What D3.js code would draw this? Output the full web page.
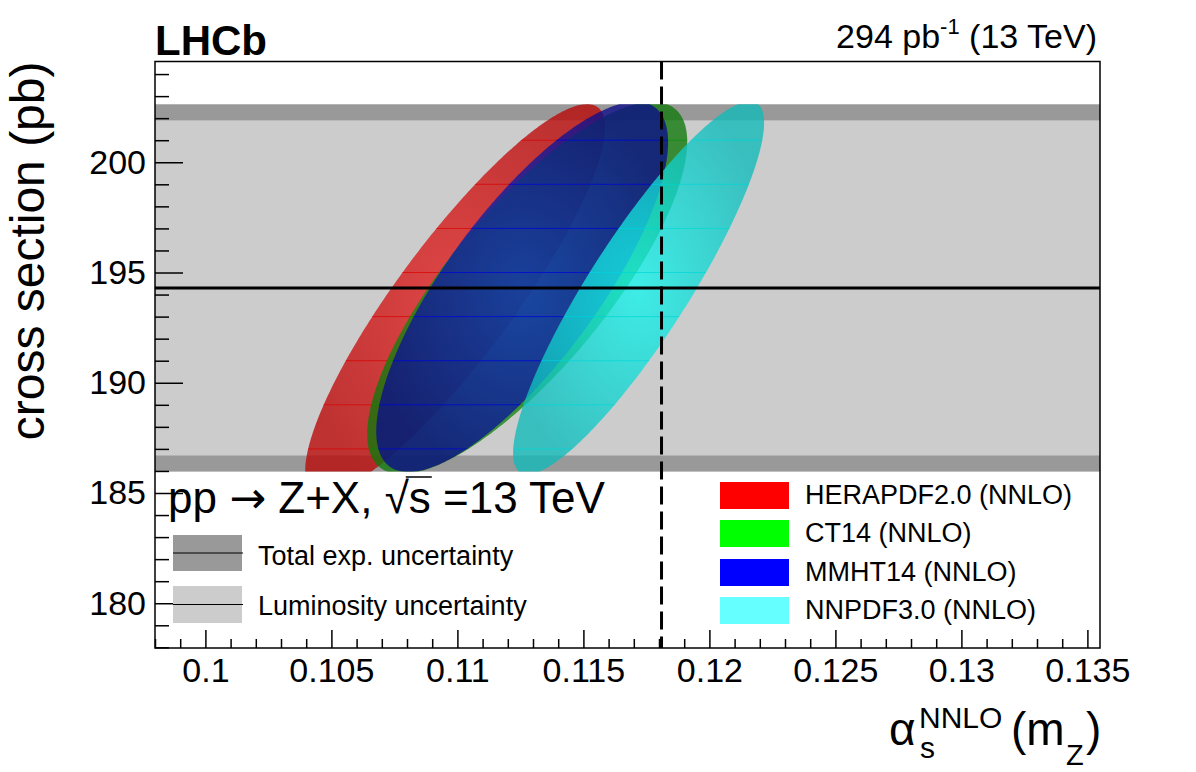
<!DOCTYPE html>
<html>
<head>
<meta charset="utf-8">
<script src="https://cdn.jsdelivr.net/npm/d3@7"></script>
<style>
  body { margin: 0; background: #fff; }
  text { font-family: "Liberation Sans", Arial, Helvetica, sans-serif; fill: #000; }
</style>
</head>
<body>
<svg id="chart" width="1196" height="772"></svg>
<script>
// measured cross section and its bands
var sigmaMeas = 194.3, totErr = 8.33, lumiErr = 7.6;
var alphaRef = 0.1181;

// tick labels
var xTicks = [0.1, 0.105, 0.11, 0.115, 0.12, 0.125, 0.13, 0.135];
var yTicks = [180, 185, 190, 195, 200];

// PDF ellipses (centre, half widths, correlation)
var pdfNames = ["HERAPDF2.0 (NNLO)", "CT14 (NNLO)", "MMHT14 (NNLO)", "NNPDF3.0 (NNLO)"];
var pdfAlpha = [0.10991, 0.11277, 0.11257, 0.11719];
var pdfSigma = [193.8, 194.3, 194.35, 194.3];
var pdfAlphaErr = [0.00595, 0.00635, 0.00579, 0.00498];
var pdfSigmaErr = [8.84, 8.44, 8.4, 8.46];
var pdfCorr = [0.88, 0.785, 0.78, 0.885];

var legendColors = ["#ff0000", "#00ff00", "#0000ff", "#66ffff"];
var innerColors = ["rgb(228,32,32)", "rgb(25,158,20)", "rgb(14,44,190)", "rgb(22,246,238)"];
var outerColors = ["rgb(186,6,6)", "rgb(15,120,10)", "rgb(12,12,138)", "rgb(16,186,186)"];
var stripeColors = ["rgb(215,0,0)", "rgb(0,150,0)", "rgb(0,0,225)", "rgb(0,215,215)"];

function drawChart() {
  var svg = d3.select("#chart");
  var pL = 155, pR = 1100, pT = 61.5, pB = 648;

  var x = d3.scaleLinear().domain([0.098, 0.1355]).range([pL, pR]);
  var y = d3.scaleLinear().domain([177.97, 204.57]).range([pB, pT]);

  var defs = svg.append("defs");
  defs.append("clipPath").attr("id", "bandClip")
    .append("rect")
    .attr("x", pL).attr("width", pR - pL)
    .attr("y", y(sigmaMeas + totErr))
    .attr("height", y(sigmaMeas - totErr) - y(sigmaMeas + totErr));

  // bands
  svg.append("rect")
    .attr("x", pL).attr("width", pR - pL)
    .attr("y", y(sigmaMeas + totErr))
    .attr("height", y(sigmaMeas - totErr) - y(sigmaMeas + totErr))
    .style("fill", "#999999");
  svg.append("rect")
    .attr("x", pL).attr("width", pR - pL)
    .attr("y", y(sigmaMeas + lumiErr))
    .attr("height", y(sigmaMeas - lumiErr) - y(sigmaMeas + lumiErr))
    .style("fill", "#cccccc");

  // ellipses
  var line = d3.line().curve(d3.curveLinearClosed);
  var stripes = d3.range(187, 202, 2);

  function ellipsePath(i) {
    var k = Math.sqrt(1 - pdfCorr[i] * pdfCorr[i]);
    var pts = d3.range(0, 360, 1).map(function(deg) {
      var t = deg * Math.PI / 180;
      var a = pdfAlpha[i] + pdfAlphaErr[i] * Math.cos(t);
      var s = pdfSigma[i] + pdfSigmaErr[i] * (pdfCorr[i] * Math.cos(t) + k * Math.sin(t));
      return [x(a), y(s)];
    });
    return line(pts);
  }

  var ellGroup = svg.append("g").attr("clip-path", "url(#bandClip)");
  pdfNames.forEach(function(name, i) {
    var grad = defs.append("radialGradient").attr("id", "grad" + i)
      .attr("cx", "50%").attr("cy", "50%").attr("r", "55%");
    grad.append("stop").attr("offset", "0%").style("stop-color", innerColors[i]);
    grad.append("stop").attr("offset", "100%").style("stop-color", outerColors[i]);

    var d = ellipsePath(i);
    defs.append("clipPath").attr("id", "ell" + i).append("path").attr("d", d);

    ellGroup.append("path")
      .attr("d", d)
      .attr("class", "pdf-ellipse")
      .style("fill", "url(#grad" + i + ")")
      .style("fill-opacity", 0.78);

    ellGroup.append("g").attr("clip-path", "url(#ell" + i + ")")
      .selectAll("line").data(stripes).enter().append("line")
      .attr("x1", pL).attr("x2", pR)
      .attr("y1", function(s) { return y(s); })
      .attr("y2", function(s) { return y(s); })
      .style("stroke", stripeColors[i])
      .style("stroke-opacity", 0.7)
      .style("stroke-width", 1);
  });

  // central value and reference alpha_s
  svg.append("line")
    .attr("x1", pL).attr("x2", pR)
    .attr("y1", y(sigmaMeas)).attr("y2", y(sigmaMeas))
    .style("stroke", "#000").style("stroke-width", 3);
  svg.append("line")
    .attr("x1", x(alphaRef)).attr("x2", x(alphaRef))
    .attr("y1", pT).attr("y2", pB)
    .style("stroke", "#000").style("stroke-width", 3)
    .style("stroke-dasharray", "18,7");

  // axes
  var minorY = d3.range(178, 205).filter(function(v) { return v % 5 !== 0; });
  var minorX = d3.range(98, 136).filter(function(v) { return v % 5 !== 0; })
    .map(function(v) { return v / 1000; });

  svg.append("g").attr("transform", "translate(" + pL + ",0)")
    .call(d3.axisLeft(y).tickValues(yTicks).tickSize(-28).tickPadding(9)
      .tickFormat(d3.format("d")));
  svg.append("g").attr("transform", "translate(" + pL + ",0)")
    .call(d3.axisLeft(y).tickValues(minorY).tickSize(-14).tickFormat(""));

  svg.append("g").attr("transform", "translate(0," + pB + ")")
    .call(d3.axisBottom(x).tickValues(xTicks).tickSize(-18).tickPadding(10)
      .tickFormat(function(d) { return String(d); }));
  svg.append("g").attr("transform", "translate(0," + pB + ")")
    .call(d3.axisBottom(x).tickValues(minorX).tickSize(-9).tickFormat(""));

  svg.selectAll(".domain").remove();
  svg.selectAll(".tick line").style("stroke", "#000").style("stroke-width", 1.5);
  svg.selectAll(".tick text")
    .style("font-size", "34px")
    .style("font-family", "'Liberation Sans', Arial, Helvetica, sans-serif")
    .style("fill", "#000");

  svg.append("rect")
    .attr("x", pL).attr("y", pT)
    .attr("width", pR - pL).attr("height", pB - pT)
    .style("fill", "none").style("stroke", "#000").style("stroke-width", 1.5);

  // axis titles
  svg.append("text")
    .attr("transform", "translate(43.5," + pT + ") rotate(-90)")
    .attr("text-anchor", "end")
    .style("font-size", "48px")
    .text("cross section (pb)");

  var xt = svg.append("g").attr("class", "x-title");
  xt.append("text").attr("x", 889).attr("y", 745).style("font-size", "46px").text("\u03b1");
  xt.append("text").attr("x", 920).attr("y", 758).style("font-size", "30px").text("s");
  xt.append("text").attr("x", 919).attr("y", 728).style("font-size", "30px").text("NNLO");
  xt.append("text").attr("x", 1011).attr("y", 745).style("font-size", "46px").text("(m");
  xt.append("text").attr("x", 1066).attr("y", 765).style("font-size", "29px").text("Z");
  xt.append("text").attr("x", 1086).attr("y", 745).style("font-size", "46px").text(")");

  // header
  svg.append("text").attr("x", 155).attr("y", 55)
    .style("font-size", "42px").style("font-weight", "bold").text("LHCb");
  var lumi = svg.append("text").attr("x", 1097).attr("y", 48)
    .attr("text-anchor", "end").style("font-size", "34px");
  lumi.append("tspan").text("294 pb");
  lumi.append("tspan").attr("dy", -14).style("font-size", "22px").text("-1");
  lumi.append("tspan").attr("dy", 14).text(" (13 TeV)");

  // process label
  var proc = svg.append("text").attr("x", 168).attr("y", 513).style("font-size", "44px");
  proc.append("tspan").text("pp ");
  proc.append("tspan").style("font-family", "'DejaVu Sans', sans-serif").text("\u2192");
  proc.append("tspan").text(" Z+X,  ");
  proc.append("tspan").style("font-family", "'DejaVu Sans', sans-serif")
    .style("font-weight", "200").text("\u221a");
  var sSpan = proc.append("tspan").text("s");
  proc.append("tspan").text(" =13 TeV");
  var sb = sSpan.node().getBBox();
  svg.append("line")
    .attr("x1", sb.x - 3).attr("x2", sb.x + sb.width + 1)
    .attr("y1", 477).attr("y2", 477)
    .style("stroke", "#000").style("stroke-width", 1.5);

  // left legend: bands
  var bandLegend = [
    { label: "Total exp. uncertainty", fill: "#999999", y0: 535, h: 36, ty: 565 },
    { label: "Luminosity uncertainty", fill: "#cccccc", y0: 586, h: 37, ty: 615 }
  ];
  bandLegend.forEach(function(e) {
    svg.append("rect").attr("x", 173).attr("y", e.y0).attr("width", 69).attr("height", e.h)
      .style("fill", e.fill);
    svg.append("line").attr("x1", 173).attr("x2", 243)
      .attr("y1", e.y0 + e.h / 2).attr("y2", e.y0 + e.h / 2)
      .style("stroke", "#000").style("stroke-width", 1);
    svg.append("text").attr("x", 258).attr("y", e.ty).style("font-size", "27px").text(e.label);
  });

  // right legend: PDFs
  var legY = [482, 520, 559, 597];
  pdfNames.forEach(function(name, i) {
    svg.append("rect").attr("x", 720).attr("y", legY[i]).attr("width", 69).attr("height", 27)
      .style("fill", legendColors[i]);
    svg.append("text").attr("x", 805).attr("y", legY[i] + 22).style("font-size", "27px").text(name);
  });
}

drawChart();
</script>
</body>
</html>
